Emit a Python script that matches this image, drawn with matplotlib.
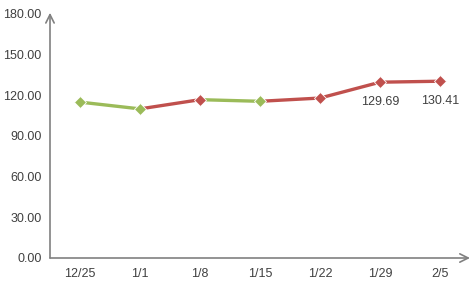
import matplotlib
matplotlib.use("Agg")
import matplotlib.pyplot as plt

plt.rcParams["font.family"] = ["Liberation Sans", "DejaVu Sans"]

categories = ["12/25", "1/1", "1/8", "1/15", "1/22", "1/29", "2/5"]
values = [115.0, 110.0, 116.8, 115.6, 118.0, 129.69, 130.41]
yticks = [0, 30, 60, 90, 120, 150, 180]
labeled = {5: "129.69", 6: "130.41"}

GREEN = "#9BBB59"
RED = "#C0504D"

fig = plt.figure(figsize=(4.75, 2.88), dpi=100)
ax = fig.add_axes([50/475, 30/288, 420/475, 244/288])
x = list(range(len(categories)))

colors = [GREEN]
for i in range(1, len(values)):
    colors.append(RED if values[i] > values[i-1] else GREEN)

for i in range(1, len(values)):
    ax.plot([x[i-1], x[i]], [values[i-1], values[i]], color=colors[i], lw=2.4,
            solid_capstyle="butt", zorder=2)
for i in range(len(values)):
    ax.plot(x[i], values[i], marker="D", ms=6.5, color=colors[i], mec="white",
            mew=0.6, zorder=3)
for i, t in labeled.items():
    ax.annotate(t, (x[i], values[i]), xytext=(0, -10), textcoords="offset points",
                ha="center", va="top", fontsize=9, color="#404040")

ax.set_xlim(-0.5, 6.5)
ax.set_ylim(0, 180)
ax.set_xticks(x)
ax.set_xticklabels(categories)
ax.set_yticks(yticks)
ax.set_yticklabels([f"{v:.2f}" for v in yticks])
ax.tick_params(length=0, labelsize=9, colors="#404040")
ax.tick_params(axis="x", pad=7)
ax.tick_params(axis="y", pad=6)
for s in ["top", "right", "left", "bottom"]:
    ax.spines[s].set_visible(False)

ax.annotate("", xy=(0, 1.005), xytext=(0, 0), xycoords="axes fraction",
            arrowprops=dict(arrowstyle="->,head_length=0.6,head_width=0.3",
                            color="#808080", lw=1.2, shrinkA=0, shrinkB=0),
            annotation_clip=False)
ax.annotate("", xy=(1.0, 0), xytext=(0, 0), xycoords="axes fraction",
            arrowprops=dict(arrowstyle="->,head_length=0.6,head_width=0.3",
                            color="#808080", lw=1.2, shrinkA=0, shrinkB=0),
            annotation_clip=False)

fig.savefig("out.png", dpi=100)
